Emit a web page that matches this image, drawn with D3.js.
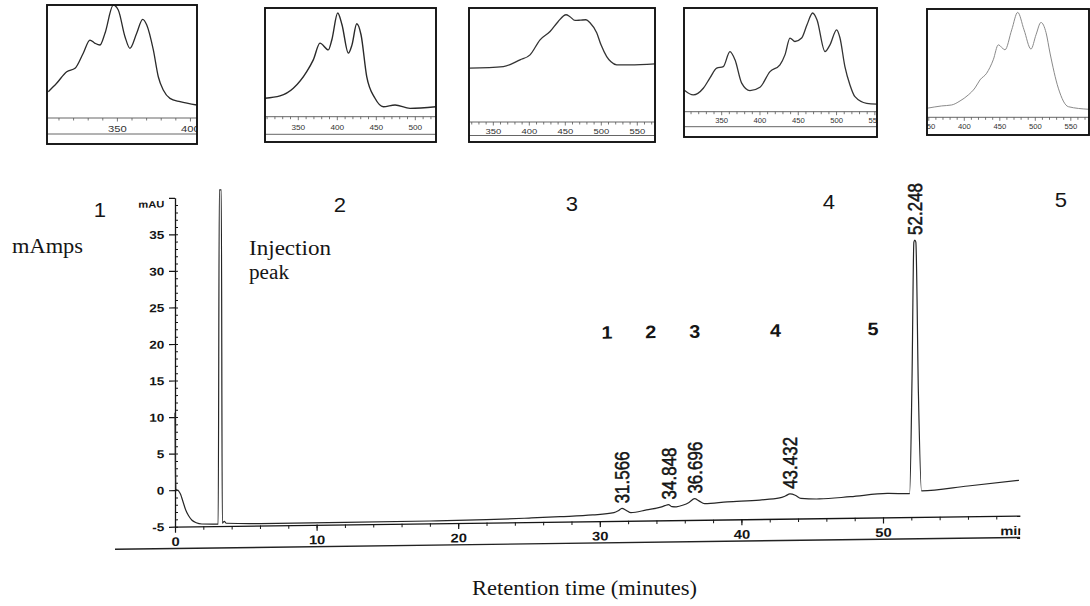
<!DOCTYPE html>
<html>
<head>
<meta charset="utf-8">
<script src="https://cdn.jsdelivr.net/npm/d3@7"></script>
<style>
  body { margin: 0; background: #fff; }
  svg { display: block; }
</style>
</head>
<body>
<svg id="chart" width="1090" height="606"></svg>
<script>
// ---------------- data ----------------
// Chromatogram: retention time (min) and detector response (mAU)
const traceTime = [0, 0.03, 0.07, 0.25, 0.4, 0.55, 0.75, 0.95, 1.2, 1.5, 1.9,
  3.05, 3.13, 3.27, 3.34, 3.48, 3.62, 6, 12, 18, 22, 25, 27.2, 29.5,
  31.0, 31.3, 31.566, 31.85, 32.2, 33.3, 34.3, 34.6, 34.848, 35.1, 35.4, 35.9,
  36.3, 36.696, 37.0, 37.4, 39, 41.3, 42.7, 43.1, 43.432, 43.8, 44.2, 45.5,
  47.7, 50.3, 51.88, 52.05, 52.18, 52.248, 52.32, 52.5, 52.72, 56, 59.6];
const traceMAU = [10.6, 3.0, 0.1, -0.1, -0.6, -1.5, -2.7, -3.5, -4.15, -4.5, -4.68,
  -4.72, 41.0, 41.0, -4.6, -4.35, -4.62, -4.72, -4.72, -4.68, -4.6, -4.45, -4.32, -4.14,
  -3.86, -3.62, -3.3, -3.55, -3.9, -3.55, -3.2, -3.0, -2.85, -3.15, -3.18, -2.95,
  -2.6, -2.1, -2.4, -2.8, -2.6, -2.4, -2.15, -1.9, -1.62, -1.8, -2.25, -2.36,
  -2.1, -1.72, -1.8, 14, 32.6, 32.9, 32.6, 12, -1.44, -0.85, -0.17];

// Labelled peaks (retention times)
const peakTimes = [31.566, 34.848, 36.696, 43.432, 52.248];
const peakLabels = ["31.566", "34.848", "36.696", "43.432", "52.248"];
const peakNumbers = ["1", "2", "3", "4", "5"];

// Axis ticks
const yTickValues = [-5, 0, 5, 10, 15, 20, 25, 30, 35, 40];
const yTickLabels = ["-5", "0", "5", "10", "15", "20", "25", "30", "35", "mAU"];
const xTickValues = [0, 10, 20, 30, 40, 50];
const xTickLabels = ["0", "10", "20", "30", "40", "50"];

// UV-Vis spectra of the numbered fractions: wavelength (nm), relative absorbance
const spec1Wl = [302.7, 308.4, 315.3, 321, 326.6, 331.2, 334.7, 338.1, 341.5, 347.2, 350.6, 355.2, 358.6, 363.2, 367.3, 370.1, 374.6, 378, 381.4, 386, 392.9, 404.3];
const spec1Abs = [0.233, 0.307, 0.41, 0.44, 0.573, 0.69, 0.661, 0.646, 0.75, 1.0, 0.956, 0.719, 0.617, 0.75, 0.873, 0.823, 0.602, 0.365, 0.248, 0.174, 0.144, 0.115];

const spec2Wl = [307.3, 326.5, 343.6, 360.8, 369.2, 377.8, 388.5, 393, 400.5, 406, 414.1, 418.8, 424.9, 430.4, 437.7, 448.3, 459, 474, 493.2, 526.2];
const spec2Abs = [0.17, 0.191, 0.262, 0.415, 0.523, 0.677, 0.615, 0.708, 0.954, 0.846, 0.585, 0.661, 0.855, 0.754, 0.369, 0.17, 0.092, 0.108, 0.077, 0.092];

const spec3Wl = [316.7, 363.9, 387.1, 401, 414.9, 428.8, 439.9, 451, 456.5, 463.5, 470.4, 478.7, 484.3, 493.6, 499.6, 507.5, 513.5, 521.4, 539.9, 574.6];
const spec3Abs = [0.472, 0.486, 0.545, 0.589, 0.721, 0.794, 0.88, 0.941, 0.923, 0.891, 0.893, 0.897, 0.871, 0.783, 0.677, 0.574, 0.528, 0.501, 0.501, 0.51];

const spec4Wl = [300.8, 312.9, 326, 334.7, 343.5, 352.1, 360.8, 367.4, 376.1, 386.9, 400, 413.1, 426.1, 432.6, 439.2, 445.7, 454.4, 461.4, 468.8, 474.4, 484.9, 491.4, 500.1, 504.4, 510.9, 517.5, 524, 539.3, 552.7];
const spec4Abs = [0.21, 0.162, 0.226, 0.326, 0.42, 0.435, 0.58, 0.5, 0.275, 0.203, 0.236, 0.387, 0.452, 0.548, 0.71, 0.677, 0.71, 0.838, 0.952, 0.887, 0.58, 0.645, 0.79, 0.713, 0.435, 0.258, 0.145, 0.081, 0.074];

const spec5Wl = [347, 368.2, 382.3, 394, 405.6, 415.1, 422.1, 431.5, 440.8, 447.9, 457.3, 466.8, 475.2, 484.1, 493.9, 501, 508, 515.1, 520.7, 532.4, 546.5, 575.6];
const spec5Abs = [0.083, 0.105, 0.114, 0.151, 0.206, 0.271, 0.345, 0.407, 0.531, 0.669, 0.623, 0.808, 0.969, 0.808, 0.63, 0.762, 0.876, 0.782, 0.593, 0.269, 0.098, 0.074];

const spec1Ticks = [350, 400];
const spec2Ticks = [350, 400, 450, 500];
const spec3Ticks = [350, 400, 450, 500, 550];
const spec4Ticks = [350, 400, 450, 500, 550];
const spec5Ticks = [350, 400, 450, 500, 550];

const sectionLabels = ["1", "2", "3", "4", "5"];

// ---------------- drawing ----------------
const svg = d3.select("#chart");
const INK = "#151515";
const SANS = "'Liberation Sans', Arial, Helvetica, sans-serif";
const SERIF = "'Liberation Serif', 'Times New Roman', Times, serif";
const SX = 1.18; // glyphs in this print are set slightly wide

function label(parent, str, x, y, o) {
  const sx = o.sx || 1;
  const t = parent.append("text")
    .attr("transform", `translate(${x},${y}) scale(${sx},1)` + (o.rotate ? ` rotate(${o.rotate})` : ""))
    .attr("text-anchor", o.anchor || "start")
    .attr("dy", o.dy || "0.35em")
    .attr("font-family", o.family || SANS)
    .attr("font-size", o.size)
    .attr("font-weight", o.weight || "normal")
    .attr("fill", o.fill || INK)
    .text(str);
  if (o.length) t.attr("textLength", o.length / sx).attr("lengthAdjust", "spacingAndGlyphs");
  if (o.halo) t.attr("stroke", o.fill || INK).attr("stroke-width", o.halo);
  return t;
}

// ---- spectra insets along the top ----
const insets = [
  { x0: 47,  x1: 197,  y0: 5, y1: 144, axisY: 118,   lineY: 134,   labelY: 128.3, fs: 9.5, wl: [301.8, 404.5], wls: spec1Wl, abs: spec1Abs, ticks: spec1Ticks, color: "#2a2a2a", width: 1.3 },
  { x0: 265, x1: 436,  y0: 8, y1: 142, axisY: 116.7, lineY: 134.3, labelY: 128,   fs: 7,   wl: [307.3, 526.5], wls: spec2Wl, abs: spec2Abs, ticks: spec2Ticks, color: "#2a2a2a", width: 1.4 },
  { x0: 469, x1: 655,  y0: 8, y1: 142, axisY: 122,   lineY: 135.5, labelY: 131.5, fs: 8,   wl: [316.2, 574.6], wls: spec3Wl, abs: spec3Abs, ticks: spec3Ticks, color: "#333",    width: 1.3 },
  { x0: 684, x1: 877,  y0: 8, y1: 137, axisY: 111.7, lineY: 126.7, labelY: 120.5, fs: 6.5, wl: [300.8, 552.8], wls: spec4Wl, abs: spec4Abs, ticks: spec4Ticks, color: "#333",    width: 1.3 },
  { x0: 927, x1: 1089, y0: 9, y1: 135, axisY: 117.3, lineY: null,  labelY: 126.7, fs: 6.5, wl: [347.5, 575.6], wls: spec5Wl, abs: spec5Abs, ticks: spec5Ticks, color: "#8a8a8a", width: 1.0 }
];

const defs = svg.append("defs");

insets.forEach((b, i) => {
  const g = svg.append("g").attr("class", "inset");
  const cid = "insetClip" + i;
  defs.append("clipPath").attr("id", cid).append("rect")
    .attr("x", b.x0).attr("y", b.y0).attr("width", b.x1 - b.x0).attr("height", b.y1 - b.y0);
  const inner = g.append("g").attr("clip-path", `url(#${cid})`);
  const sx = d3.scaleLinear().domain(b.wl).range([b.x0, b.x1]);
  const sy = d3.scaleLinear().domain([0, 1]).range([b.axisY, b.y0]);

  inner.append("line").attr("x1", b.x0).attr("x2", b.x1).attr("y1", b.axisY).attr("y2", b.axisY)
    .attr("stroke", "#555").attr("stroke-width", 0.9);
  if (b.lineY) {
    inner.append("line").attr("x1", b.x0).attr("x2", b.x1).attr("y1", b.lineY).attr("y2", b.lineY)
      .attr("stroke", "#555").attr("stroke-width", 0.9);
  }
  const minor = d3.range(Math.ceil(b.wl[0] / 10) * 10, b.wl[1], 10);
  inner.selectAll("line.tick").data(minor).join("line").attr("class", "tick")
    .attr("x1", d => sx(d)).attr("x2", d => sx(d))
    .attr("y1", b.axisY).attr("y2", d => b.axisY + (d % 50 === 0 ? 3.5 : 2.5))
    .attr("stroke", "#555").attr("stroke-width", 0.8);
  b.ticks.forEach(v => {
    label(inner, String(v), sx(v), b.labelY, { size: b.fs, anchor: "middle", sx: SX, fill: "#333" });
  });

  inner.append("path")
    .datum(d3.zip(b.wls, b.abs))
    .attr("fill", "none")
    .attr("stroke", b.color)
    .attr("stroke-width", b.width)
    .attr("stroke-linejoin", "round")
    .attr("d", d3.line().x(d => sx(d[0])).y(d => sy(d[1])).curve(d3.curveMonotoneX));

  g.append("rect").attr("x", b.x0).attr("y", b.y0).attr("width", b.x1 - b.x0).attr("height", b.y1 - b.y0)
    .attr("fill", "none").attr("stroke", "#111").attr("stroke-width", 1.9);
});

// section numbers above the chromatogram
const sectionPos = [[100, 210], [340, 205], [572, 204], [829, 202], [1061, 200]];
sectionLabels.forEach((s, i) => {
  label(svg, s, sectionPos[i][0], sectionPos[i][1], { size: 21, anchor: "middle", sx: 1.05 });
});

// ---- chromatogram ----
const x = d3.scaleLinear().domain([0, 60]).range([175, 1024.6]);
const y = d3.scaleLinear().domain([-5, 40]).range([526.7, 197.8]);

// the printed trace runs on a slightly slanted baseline
const main = svg.append("g").attr("transform", `translate(${x(0)},0) skewY(-0.75) translate(${-x(0)},0)`);
defs.append("clipPath").attr("id", "plotClip").append("rect")
  .attr("x", 0).attr("y", 160).attr("width", x(59.7)).attr("height", 440);
const body = main.append("g").attr("clip-path", "url(#plotClip)");

// y axis, major ticks with labels
const yAxisG = body.append("g").attr("transform", `translate(${x(0)},0)`)
  .call(d3.axisLeft(y).tickValues(yTickValues).tickSize(6).tickSizeOuter(0).tickPadding(3)
    .tickFormat((d, i) => yTickLabels[i]));
yAxisG.select(".domain").attr("stroke", INK).attr("stroke-width", 1.3);
yAxisG.selectAll(".tick line").attr("stroke", INK).attr("stroke-width", 1.2);
yAxisG.selectAll(".tick text")
  .attr("fill", INK).attr("font-family", SANS).attr("font-weight", "bold")
  .attr("font-size", (d, i) => yTickLabels[i] === "mAU" ? 9.5 : 11.5)
  .attr("dy", (d, i) => yTickLabels[i] === "mAU" ? "0.95em" : "0.34em")
  .attr("transform", `scale(${SX},1)`);

// y axis minor ticks (1 mAU)
const yMinor = body.append("g").attr("transform", `translate(${x(0)},0)`)
  .call(d3.axisRight(y).tickValues(d3.range(-5, 40, 1)).tickSize(3).tickFormat(""));
yMinor.select(".domain").remove();
yMinor.selectAll(".tick line").attr("stroke", INK).attr("stroke-width", 1);

// x axis at the bottom of the response range
const xAxisG = body.append("g").attr("transform", `translate(0,${y(-5)})`)
  .call(d3.axisBottom(x).tickValues(xTickValues).tickSize(6).tickSizeOuter(0).tickPadding(4.5)
    .tickFormat((d, i) => xTickLabels[i]));
xAxisG.select(".domain").attr("stroke", INK).attr("stroke-width", 1.3);
xAxisG.selectAll(".tick line").attr("stroke", INK).attr("stroke-width", 1.2);
xAxisG.selectAll(".tick text")
  .attr("fill", INK).attr("font-family", SANS).attr("font-weight", "bold").attr("font-size", 12.5)
  .attr("transform", `scale(${SX},1)`);

const xMinor = body.append("g").attr("transform", `translate(0,${y(-5)})`)
  .call(d3.axisBottom(x).tickValues(d3.range(0, 60, 2)).tickSize(3.5).tickFormat(""));
xMinor.select(".domain").remove();
xMinor.selectAll(".tick line").attr("stroke", INK).attr("stroke-width", 1);

label(body, "min", x(59.2), y(-5) + 15, { size: 12.5, weight: "bold", anchor: "middle", sx: SX });

// rule under the time axis
body.append("line").attr("x1", 115).attr("x2", x(59.7)).attr("y1", 548.5).attr("y2", 548.5)
  .attr("stroke", "#222").attr("stroke-width", 1.4);

// detector trace
body.append("path")
  .datum(d3.zip(traceTime, traceMAU))
  .attr("fill", "none")
  .attr("stroke", "#262626")
  .attr("stroke-width", 1.2)
  .attr("stroke-linejoin", "round")
  .attr("d", d3.line().x(d => x(d[0])).y(d => y(d[1])).curve(d3.curveMonotoneX));

// retention-time labels above each peak apex
peakTimes.forEach((t, i) => {
  const apex = traceMAU[traceTime.indexOf(t)];
  label(body, peakLabels[i], x(t), y(apex) - 5, { size: 17, rotate: -90, anchor: "start", sx: SX, dy: "0.36em", halo: 0.45 });
});

// fraction numbers over the peaks
const numberTimes = [30.5, 33.6, 36.7, 42.4, 49.3];
peakNumbers.forEach((s, i) => {
  label(body, s, x(numberTimes[i]), y(20.8), { size: 18, weight: "bold", anchor: "middle", sx: 1.1 });
});

// free text
label(svg, "mAmps", 12, 246, { size: 20, family: SERIF, length: 71 });
label(svg, "Injection", 249, 247.5, { size: 20, family: SERIF, length: 82 });
label(svg, "peak", 249, 271.5, { size: 20, family: SERIF, length: 40 });
label(svg, "Retention time (minutes)", 472, 588, { size: 20, family: SERIF, length: 225 });
</script>
</body>
</html>
